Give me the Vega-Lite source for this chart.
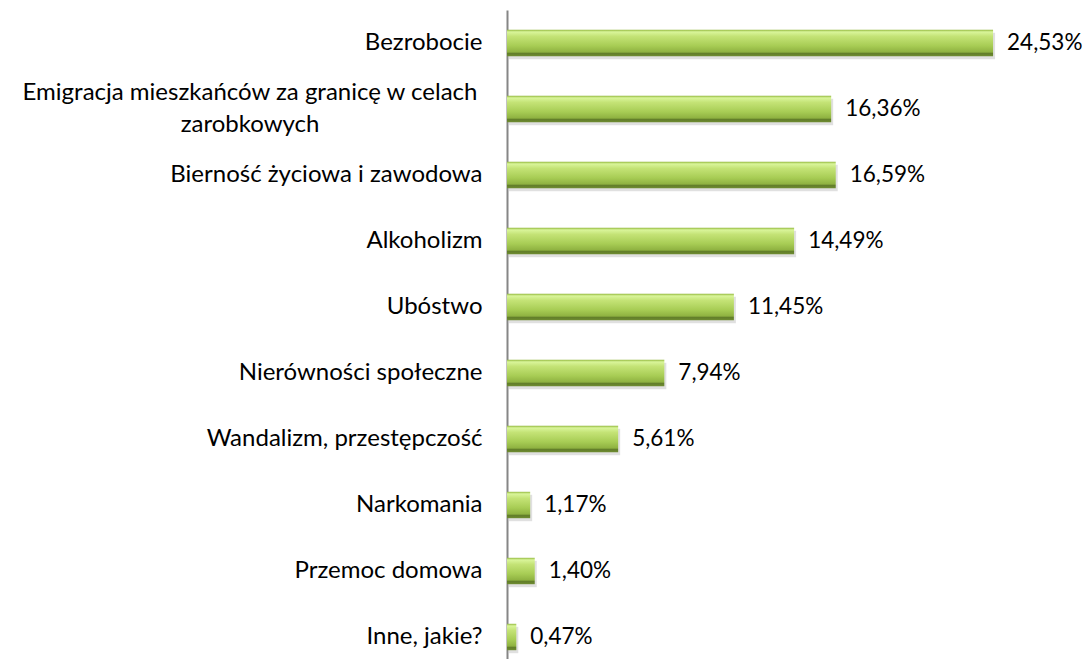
{
  "$schema": "https://vega.github.io/schema/vega-lite/v6.json",
  "width": 580,
  "height": 660,
  "autosize": "none",
  "padding": {"left": 507, "top": 10, "right": 0, "bottom": 0},
  "background": "white",
  "config": {
    "view": {"stroke": null},
    "locale": {"number": {"decimal": ",", "thousands": " ", "grouping": [3], "currency": ["", " zł"]}},
    "font": "Lato"
  },
  "data": {
    "values": [
      {"category": "Bezrobocie", "value": 0.2453},
      {"category": "Emigracja mieszkańców za granicę w celach zarobkowych", "value": 0.1636},
      {"category": "Bierność życiowa i zawodowa", "value": 0.1659},
      {"category": "Alkoholizm", "value": 0.1449},
      {"category": "Ubóstwo", "value": 0.1145},
      {"category": "Nierówności społeczne", "value": 0.0794},
      {"category": "Wandalizm, przestępczość", "value": 0.0561},
      {"category": "Narkomania", "value": 0.0117},
      {"category": "Przemoc domowa", "value": 0.014},
      {"category": "Inne, jakie?", "value": 0.0047}
    ]
  },
  "encoding": {
    "y": {
      "field": "category",
      "type": "nominal",
      "sort": null,
      "scale": {"paddingInner": 0.6, "paddingOuter": 0.3},
      "axis": {
        "title": null,
        "ticks": false,
        "domainColor": "#868686",
        "domainWidth": 2,
        "labelFontSize": 24,
        "labelColor": "#000000",
        "labelFont": "Lato",
        "labelPadding": 25,
        "labelLimit": 600,
        "labelExpr": "indexof(datum.value, 'Emigracja') == 0 ? '' : datum.value"
      }
    }
  },
  "layer": [
    {
      "mark": {"type": "bar", "color": "#000000", "opacity": 0.12, "yOffset": 3, "xOffset": 2},
      "encoding": {
        "x": {"field": "value", "type": "quantitative", "scale": {"domain": [0, 0.2927], "nice": false}, "axis": null}
      }
    },
    {
      "mark": {
        "type": "bar",
        "color": {
          "gradient": "linear",
          "x1": 0, "y1": 0, "x2": 0, "y2": 1,
          "stops": [
            {"offset": 0, "color": "#93b83e"},
            {"offset": 0.08, "color": "#d9f59a"},
            {"offset": 0.25, "color": "#c4e376"},
            {"offset": 0.6, "color": "#a8cd55"},
            {"offset": 0.84, "color": "#8fb241"},
            {"offset": 0.9, "color": "#617d29"},
            {"offset": 1, "color": "#708d32"}
          ]
        }
      },
      "encoding": {
        "x": {"field": "value", "type": "quantitative"}
      }
    },
    {
      "mark": {"type": "text", "align": "left", "baseline": "middle", "dx": 14, "fontSize": 22.5, "color": "#000000"},
      "encoding": {
        "x": {"field": "value", "type": "quantitative"},
        "text": {"field": "value", "type": "quantitative", "format": ".2%"}
      }
    },
    {
      "transform": [{"filter": "indexof(datum.category, 'Emigracja') == 0"}],
      "mark": {
        "type": "text",
        "align": "center",
        "baseline": "middle",
        "dx": -257,
        "dy": -16,
        "fontSize": 24,
        "lineHeight": 32,
        "color": "#000000",
        "text": ["Emigracja mieszkańców za granicę w celach", "zarobkowych"]
      },
      "encoding": {
        "x": {"datum": 0, "type": "quantitative"}
      }
    }
  ]
}
